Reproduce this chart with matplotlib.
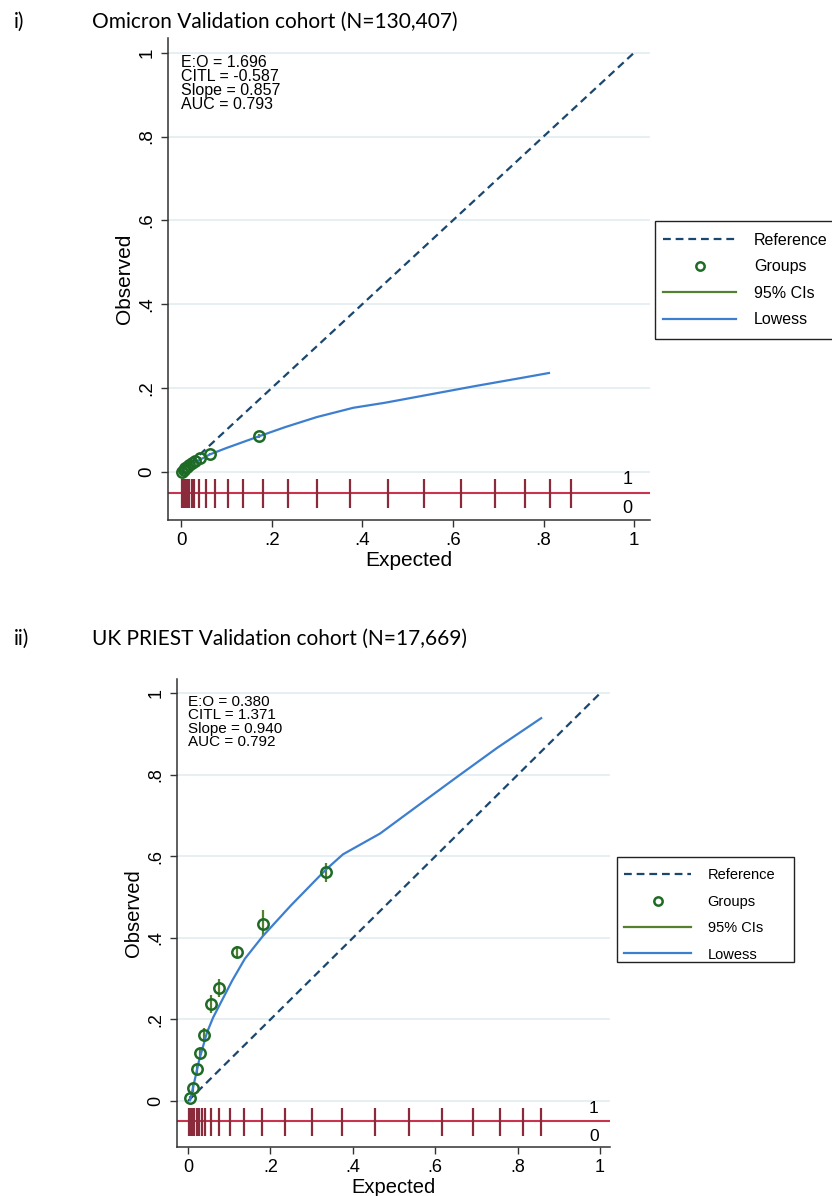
import matplotlib.pyplot as plt
from matplotlib.lines import Line2D
from matplotlib.patches import Rectangle

plt.rcParams['font.family'] = ['Liberation Sans', 'DejaVu Sans']

W, H = 832, 1196

# ---- panel i) Omicron validation cohort
omi_title = "Omicron Validation cohort (N=130,407)"
omi_stats = ["E:O = 1.696", "CITL = -0.587", "Slope = 0.857", "AUC = 0.793"]
omi_grp_x = [0.003, 0.006, 0.009, 0.013, 0.018, 0.024, 0.031, 0.043, 0.064, 0.172]
omi_grp_y = [0.001, 0.005, 0.009, 0.013, 0.017, 0.021, 0.025, 0.033, 0.043, 0.085]
omi_ci_lo = [0.000, 0.004, 0.008, 0.012, 0.016, 0.020, 0.023, 0.031, 0.040, 0.080]
omi_ci_hi = [0.002, 0.006, 0.010, 0.014, 0.018, 0.022, 0.027, 0.035, 0.046, 0.090]
omi_low_x = [0.003, 0.01, 0.02, 0.03, 0.04, 0.064, 0.10, 0.172, 0.23, 0.30, 0.38,
             0.45, 0.55, 0.65, 0.75, 0.812]
omi_low_y = [0.002, 0.008, 0.016, 0.022, 0.028, 0.042, 0.057, 0.085, 0.107, 0.131,
             0.153, 0.165, 0.185, 0.205, 0.224, 0.236]
omi_rug = [0.003, 0.004, 0.005, 0.006, 0.007, 0.008, 0.009, 0.010, 0.011, 0.012,
           0.013, 0.015, 0.018, 0.024, 0.029, 0.040, 0.055, 0.075, 0.104, 0.137,
           0.181, 0.236, 0.300, 0.374, 0.456, 0.537, 0.619, 0.694, 0.760, 0.815, 0.861]

# ---- panel ii) UK PRIEST validation cohort
uk_title = "UK PRIEST Validation cohort (N=17,669)"
uk_stats = ["E:O = 0.380", "CITL = 1.371", "Slope = 0.940", "AUC = 0.792"]
uk_grp_x = [0.005, 0.012, 0.022, 0.029, 0.039, 0.056, 0.075, 0.119, 0.182, 0.335]
uk_grp_y = [0.007, 0.032, 0.078, 0.117, 0.163, 0.239, 0.278, 0.366, 0.434, 0.561]
uk_ci_lo = [0.002, 0.022, 0.066, 0.103, 0.148, 0.217, 0.256, 0.351, 0.405, 0.537]
uk_ci_hi = [0.012, 0.042, 0.090, 0.131, 0.178, 0.259, 0.300, 0.380, 0.468, 0.583]
uk_low_x = [0.005, 0.012, 0.027, 0.046, 0.061, 0.107, 0.138, 0.182, 0.25, 0.335,
            0.376, 0.466, 0.56, 0.653, 0.75, 0.857]
uk_low_y = [0.002, 0.032, 0.10, 0.168, 0.205, 0.295, 0.349, 0.405, 0.48, 0.568,
            0.605, 0.656, 0.726, 0.795, 0.866, 0.939]
uk_rug = [0.003, 0.004, 0.005, 0.006, 0.007, 0.008, 0.009, 0.010, 0.011, 0.012,
          0.013, 0.015, 0.022, 0.027, 0.034, 0.041, 0.056, 0.075, 0.102, 0.136,
          0.180, 0.235, 0.301, 0.374, 0.454, 0.536, 0.616, 0.692, 0.757, 0.813, 0.857]

ticks = [0, 0.2, 0.4, 0.6, 0.8, 1]
tick_labels = ["0", ".2", ".4", ".6", ".8", "1"]
legend_labels = ["Reference", "Groups", "95% CIs", "Lowess"]

NAVY = "#1a476f"
BLUE = "#3d7fcf"
GREEN = "#1e6b26"
CI_GREEN = "#55802f"
GRID = "#e2ecef"
RUG_LINE = "#c8344e"
RUG_TICK = "#8a2b3c"


def px_axes(fig, left, right, top, bottom):
    return fig.add_axes([left / W, 1 - bottom / H, (right - left) / W, (bottom - top) / H])


def draw(ax, gx, gy, lo, hi, lx, ly, rug, stats, xlim, ylim, fs, leg_rect, leg_fs, leg_sp):
    ax.set_xlim(*xlim)
    ax.set_ylim(*ylim)
    for t in ticks:
        ax.axhline(t, color=GRID, lw=1.2, zorder=0)
    ax.plot([0, 1], [0, 1], color=NAVY, lw=1.6, dashes=(3.5, 2.2), zorder=3)
    ax.vlines(gx, lo, hi, color=CI_GREEN, lw=1.6, zorder=4)
    ax.plot(gx, gy, 'o', mfc='none', mec=GREEN, mew=1.8, ms=7.5, zorder=5)
    ax.plot(lx, ly, color=BLUE, lw=1.6, zorder=4)
    # rug of predicted risks
    ax.axhline(-0.05, color=RUG_LINE, lw=1.5, zorder=2)
    ax.vlines(rug, -0.085, -0.016, color=RUG_TICK, lw=1.6, zorder=3)
    ax.text(0.997, -0.019, "1", ha='right', va='center', fontsize=fs)
    ax.text(0.997, -0.087, "0", ha='right', va='center', fontsize=fs)
    ax.text(0.0, 0.995, "\n".join(stats), ha='left', va='top', fontsize=fs - 1.5,
            linespacing=0.92)

    ax.set_xticks(ticks)
    ax.set_xticklabels(tick_labels)
    ax.set_yticks(ticks)
    ax.set_yticklabels(tick_labels, rotation=90, va='center')
    ax.tick_params(length=5, width=1, color='#333333', labelsize=fs + 0.5, pad=4)
    ax.spines['top'].set_visible(False)
    ax.spines['right'].set_visible(False)
    for s in ('left', 'bottom'):
        ax.spines[s].set_linewidth(1.1)
        ax.spines[s].set_color('#333333')
    ax.set_xlabel("Expected", fontsize=fs + 2, labelpad=1)
    ax.set_ylabel("Observed", fontsize=fs + 2, labelpad=3)

    handles = [
        Line2D([], [], color=NAVY, lw=1.6, dashes=(3.5, 2.2)),
        Line2D([], [], ls='none', marker='o', mfc='none', mec=GREEN, mew=1.8, ms=6),
        Line2D([], [], color=CI_GREEN, lw=1.6),
        Line2D([], [], color=BLUE, lw=1.6),
    ]
    l, t, r, b = leg_rect
    fig = ax.figure
    fig.patches.append(Rectangle((l / W, 1 - b / H), (r - l) / W, (b - t) / H,
                                 transform=fig.transFigure, fill=False,
                                 edgecolor='#222222', lw=1.0))
    fig.legend(handles, legend_labels, loc='upper left',
               bbox_to_anchor=((l + 3) / W, 1 - (t + 7) / H), fontsize=leg_fs,
               frameon=False, handlelength=4.6, labelspacing=leg_sp, borderpad=0.3,
               handletextpad=1.1, borderaxespad=0)


fig = plt.figure(figsize=(W / 100, H / 100), dpi=100)

ax1 = px_axes(fig, 168, 650, 38, 520)
draw(ax1, omi_grp_x, omi_grp_y, omi_ci_lo, omi_ci_hi, omi_low_x, omi_low_y, omi_rug,
     omi_stats, (-0.0287, 1.035), (-0.1146, 1.035), 13, (655, 221, 860, 339), 11.5, 0.72)

ax2 = px_axes(fig, 177, 610, 679, 1147)
draw(ax2, uk_grp_x, uk_grp_y, uk_ci_lo, uk_ci_hi, uk_low_x, uk_low_y, uk_rug,
     uk_stats, (-0.0267, 1.024), (-0.1127, 1.035), 12.5, (617, 857, 794, 962), 10.5, 0.85)

title_font = ['Lato', 'DejaVu Sans']
fig.text(14 / W, 1 - 22 / H, "i)", fontsize=15, family=title_font, va='center')
fig.text(92 / W, 1 - 22 / H, omi_title, fontsize=15, family=title_font, va='center')
fig.text(14 / W, 1 - 639 / H, "ii)", fontsize=15, family=title_font, va='center')
fig.text(92 / W, 1 - 639 / H, uk_title, fontsize=15, family=title_font, va='center')

fig.savefig("out.png", dpi=100)
